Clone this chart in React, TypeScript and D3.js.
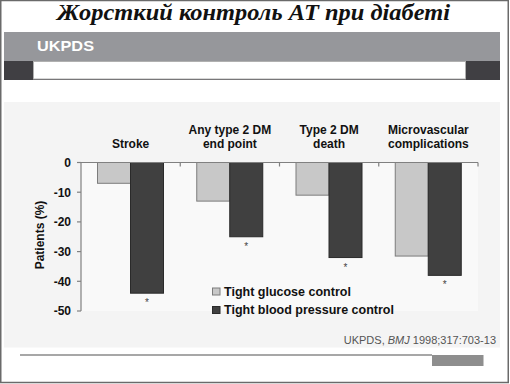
import React from "react";
import * as d3 from "d3";

const categories = ["Stroke", "Any type 2 DM end point", "Type 2 DM death", "Microvascular complications"];
const categoryLines = [["Stroke"], ["Any type 2 DM", "end point"], ["Type 2 DM", "death"], ["Microvascular", "complications"]];
const seriesNames = ["Tight glucose control", "Tight blood pressure control"];
const glucoseValues = [-7, -13, -11, -31.5];
const bpValues = [-44, -25, -32, -38];
const yTicks = [0, -10, -20, -30, -40, -50];
const titleText = "Жорсткий контроль АТ при діабеті";
const bandText = "UKPDS";

const fills = ["#c8c8c8", "#404040"];
const strokes = ["#7c7c7c", "#2a2a2a"];

export default function App() {
  const W = 510, H = 384;
  const x = d3.scaleBand<string>().domain(categories).range([81, 478]).paddingInner(0).paddingOuter(0);
  const inner = d3.scaleBand<string>().domain(seriesNames).range([16.5, 82.5]).padding(0);
  const y = d3.scaleLinear().domain([-50, 0]).range([311, 162.5]);
  const series = [glucoseValues, bpValues];
  const bold = { fontFamily: "Liberation Sans, Arial, sans-serif", fontWeight: 700 } as const;

  return (
    <svg width={W} height={H} style={{ position: "absolute", left: 0, top: 0 }}>
      <rect x={0} y={0} width={W} height={H} fill="#ffffff" />
      {/* outer frame */}
      <rect x={0.75} y={0.5} width={507.5} height={382} fill="none" stroke="#6a6a6a" strokeWidth={1.5} />
      {/* title */}
      <text x={57} y={19.5} textLength={393} lengthAdjust="spacingAndGlyphs"
        style={{ fontFamily: "Liberation Serif, Times New Roman, serif", fontWeight: 700, fontStyle: "italic", fontSize: 23 }}
        fill="#111">{titleText}</text>
      {/* gray band */}
      <rect x={4} y={32} width={496} height={29} fill="#96979b" />
      <text x={37} y={51} textLength={57} lengthAdjust="spacingAndGlyphs" style={{ ...bold, fontSize: 14 }} fill="#ffffff">{bandText}</text>
      <rect x={4} y={61} width={496} height={19} fill="#403f43" />
      <rect x={33.5} y={61.5} width={432} height={17.5} fill="#ffffff" stroke="#b0b0b0" strokeWidth={1} />
      {/* chart panel */}
      <rect x={4} y={102} width={496} height={245.5} fill="#f4f4f4" />
      <rect x={81} y={162.5} width={397} height={148.5} fill="#f9f9f9" />
      {/* category labels */}
      {categoryLines.map((lines, i) => {
        const cx = (x(categories[i]) as number) + x.bandwidth() / 2;
        const startY = lines.length === 1 ? 148 : 134;
        return (
          <text key={i} textAnchor="middle" style={{ ...bold, fontSize: 12 }} fill="#111">
            {lines.map((l, j) => (
              <tspan key={j} x={cx} y={startY + j * 14}>{l}</tspan>
            ))}
          </text>
        );
      })}
      {/* bars */}
      {series.map((vals, s) =>
        vals.map((v, i) => {
          const bx = (x(categories[i]) as number) + (inner(seriesNames[s]) as number);
          return (
            <rect key={`${s}-${i}`} x={bx} y={y(0)} width={inner.bandwidth()} height={y(v) - y(0)}
              fill={fills[s]} stroke={strokes[s]} strokeWidth={1} />
          );
        })
      )}
      {/* asterisks under BP bars */}
      {bpValues.map((v, i) => (
        <text key={i} x={(x(categories[i]) as number) + (inner(seriesNames[1]) as number) + inner.bandwidth() / 2}
          y={y(v) + 13} textAnchor="middle" style={{ fontFamily: "Liberation Sans, Arial, sans-serif", fontSize: 10 }} fill="#444">*</text>
      ))}
      {/* y axis */}
      <line x1={81} x2={81} y1={y(0)} y2={y(-50)} stroke="#808080" strokeWidth={1.2} />
      {yTicks.map((t) => (
        <g key={t}>
          <line x1={77} x2={81} y1={y(t)} y2={y(t)} stroke="#808080" strokeWidth={1.2} />
          <text x={71} y={y(t)} dy="0.36em" textAnchor="end" style={{ ...bold, fontSize: 12 }} fill="#111">{t}</text>
        </g>
      ))}
      {/* x axis */}
      <line x1={81} x2={478} y1={y(0)} y2={y(0)} stroke="#808080" strokeWidth={1.2} />
      {categories.map((c) => {
        const bx = (x(c) as number) + x.bandwidth();
        return <line key={c} x1={bx} x2={bx} y1={y(0)} y2={y(0) + 4} stroke="#808080" strokeWidth={1.2} />;
      })}
      {/* y label */}
      <text transform={`translate(44,235) rotate(-90)`} textAnchor="middle" style={{ ...bold, fontSize: 12 }} fill="#111">Patients (%)</text>
      {/* legend */}
      {seriesNames.map((n, s) => (
        <g key={n}>
          <rect x={212.5} y={288 + s * 18.5} width={7.5} height={7} fill={fills[s]} stroke={strokes[s]} strokeWidth={1} />
          <text x={224} y={295.5 + s * 18.5} style={{ ...bold, fontSize: 12.5 }} fill="#111">{n}</text>
        </g>
      ))}
      {/* citation */}
      <text x={496} y={344} textAnchor="end" style={{ fontFamily: "Liberation Sans, Arial, sans-serif", fontSize: 11 }} fill="#555">
        UKPDS, <tspan fontStyle="italic">BMJ</tspan> 1998;317:703-13
      </text>
      {/* bottom rule */}
      <line x1={20} x2={432} y1={355} y2={355} stroke="#8a8a8a" strokeWidth={1.5} />
      <rect x={432} y={355} width={51.5} height={11} fill="#8e8e8e" />
    </svg>
  );
}
